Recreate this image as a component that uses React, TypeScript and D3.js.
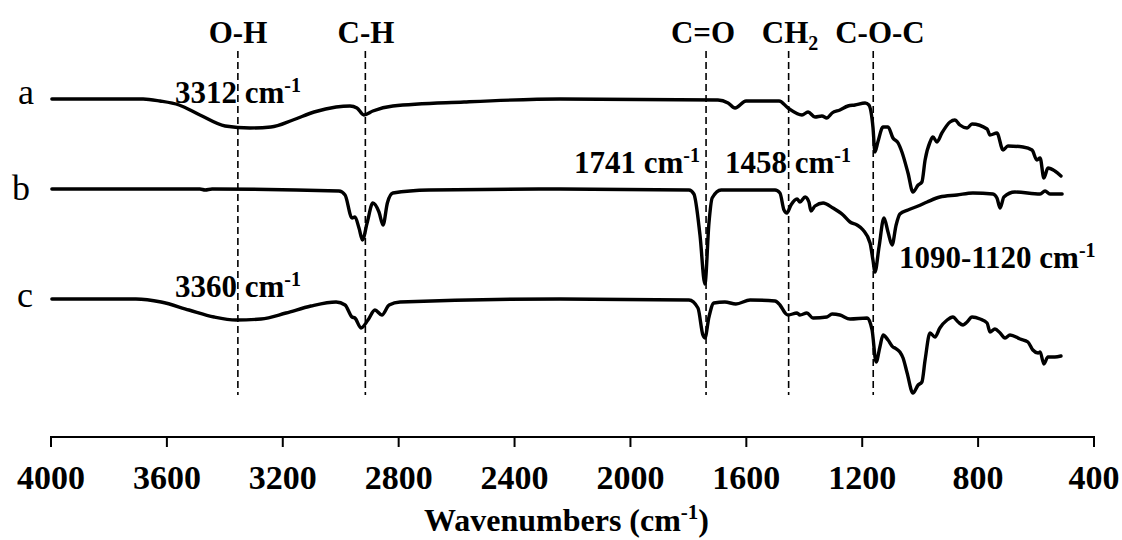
import React from 'react';
import * as d3 from 'd3';

// ---- Data ----
const wavenumberTicks = [4000, 3600, 3200, 2800, 2400, 2000, 1600, 1200, 800, 400];

// Trace a (offset transmittance, arbitrary units)
const traceAWavenumbers = [3997, 3682, 3624, 3558, 3486, 3399, 3313, 3241, 3165, 3092, 3016, 2968, 2944, 2920, 2889, 2820, 2574, 2243, 1698, 1663, 1639, 1601, 1487, 1456, 1408, 1387, 1363, 1339, 1322, 1304, 1277, 1249, 1225, 1190, 1177, 1163, 1156, 1146, 1128, 1111, 1094, 1076, 1063, 1042, 1025, 1007, 994, 983, 966, 956, 942, 925, 897, 880, 863, 838, 821, 769, 759, 735, 714, 697, 645, 614, 597, 586, 573, 559, 535, 514];
const traceAValues = [301, 301, 299, 295, 285, 274, 272, 273, 280, 288, 293, 294, 292, 285, 289, 294, 298, 301, 300, 297, 292, 299, 299, 292, 285, 288, 283, 284, 282, 287, 290, 294, 295, 297, 295, 273, 248, 258, 273, 273, 262, 257, 248, 227, 208, 215, 218, 240, 258, 263, 258, 267, 278, 280, 275, 272, 276, 271, 265, 267, 250, 254, 253, 250, 240, 242, 222, 232, 229, 224];

// Trace b
const traceBWavenumbers = [3997, 3486, 3468, 3444, 3006, 2985, 2961, 2951, 2937, 2925, 2909, 2889, 2868, 2854, 2839, 2820, 2695, 2243, 1798, 1781, 1760, 1743, 1729, 1718, 1687, 1501, 1484, 1470, 1460, 1446, 1425, 1415, 1397, 1384, 1377, 1363, 1335, 1301, 1266, 1242, 1218, 1197, 1173, 1163, 1156, 1142, 1125, 1111, 1097, 1083, 1070, 1042, 1007, 976, 932, 873, 818, 749, 735, 724, 711, 673, 586, 569, 552, 510];
const traceBValues = [211, 211, 210, 211, 209, 205, 182, 183, 172, 160, 177, 197, 188, 175, 197, 207, 210, 211, 210, 206, 165, 116, 177, 202, 210, 210, 207, 190, 187, 195, 201, 198, 203, 198, 189, 194, 197, 192, 185, 178, 175, 170, 157, 140, 128, 153, 182, 168, 155, 175, 186, 190, 194, 198, 203, 205, 207, 206, 202, 192, 203, 208, 206, 209, 206, 206];

// Trace c
const traceCWavenumbers = [3997, 3707, 3620, 3524, 3437, 3361, 3275, 3189, 3103, 3016, 2985, 2961, 2951, 2930, 2906, 2882, 2858, 2833, 2795, 2243, 1798, 1767, 1750, 1743, 1729, 1712, 1674, 1636, 1587, 1501, 1484, 1463, 1456, 1425, 1415, 1391, 1370, 1322, 1304, 1277, 1242, 1183, 1166, 1152, 1139, 1128, 1111, 1094, 1087, 1070, 1059, 1045, 1025, 1007, 994, 983, 966, 949, 932, 907, 887, 869, 852, 838, 821, 793, 769, 759, 742, 724, 707, 690, 655, 628, 611, 593, 586, 573, 559, 535, 514];
const traceCValues = [101, 101, 98, 90, 83, 80, 81, 87, 94, 98, 95, 83, 82, 72, 80, 90, 85, 95, 98, 101, 100, 92, 65, 62, 83, 97, 98, 96, 100, 99, 95, 86, 85, 87, 85, 87, 82, 83, 86, 85, 81, 82, 70, 38, 53, 65, 60, 53, 52, 48, 42, 27, 7, 15, 18, 40, 67, 63, 72, 80, 83, 78, 75, 78, 83, 81, 77, 68, 71, 67, 62, 65, 61, 58, 50, 47, 48, 36, 43, 43, 44];

const traceLabels = ['a', 'b', 'c'];

// Band assignments (dashed reference lines)
const bandNames = ['O-H', 'C-H', 'C=O', 'CH', 'C-O-C'];
const bandSubscripts = ['', '', '', '2', ''];
const bandWavenumbers = [3355, 2915, 1739, 1454, 1162];

// Peak annotations
const annotationTexts = ['3312 cm', '3360 cm', '1741 cm', '1458 cm', '1090-1120 cm'];

const FONT = "'Liberation Serif', 'Times New Roman', Times, serif";

export default function App() {
  const W = 1122;
  const H = 540;
  const x = d3.scaleLinear().domain([4000, 400]).range([51, 1094]);
  const y = d3.scaleLinear().domain([0, 350]).range([400, 50]);
  const line = d3
    .line<[number, number]>()
    .x((d) => x(d[0]))
    .y((d) => y(d[1]))
    .curve(d3.curveMonotoneX);

  const traces = [
    d3.zip(traceAWavenumbers, traceAValues) as [number, number][],
    d3.zip(traceBWavenumbers, traceBValues) as [number, number][],
    d3.zip(traceCWavenumbers, traceCValues) as [number, number][],
  ];
  const labelPos = [
    { x: 26, y: 104 },
    { x: 21, y: 200 },
    { x: 25, y: 307 },
  ];

  const axisY = 437;
  const headerX = [238, 366, 703, 790, 880];
  const annPos = [
    { x: 175, y: 103 },
    { x: 175, y: 297 },
    { x: 574, y: 173 },
    { x: 725, y: 173 },
    { x: 899, y: 268 },
  ];

  return (
    <svg
      width={W}
      height={H}
      viewBox={`0 0 ${W} ${H}`}
      style={{ position: 'absolute', left: 0, top: 0, background: '#fff' }}
      fontFamily={FONT}
    >
      <rect x={0} y={0} width={W} height={H} fill="#fff" />
      {bandWavenumbers.map((wn, i) => (
        <line
          key={'d' + i}
          x1={x(wn)}
          x2={x(wn)}
          y1={51}
          y2={395}
          stroke="#000"
          strokeWidth={1.6}
          strokeDasharray="7,4"
        />
      ))}
      {bandNames.map((n, i) => (
        <text key={'h' + i} x={headerX[i]} y={43} fontSize={31} fontWeight="bold" textAnchor="middle">
          {n}
          {bandSubscripts[i] && (
            <tspan fontSize={20} dy={7}>
              {bandSubscripts[i]}
            </tspan>
          )}
        </text>
      ))}
      {traces.map((t, i) => (
        <path
          key={'t' + i}
          d={line(t) || ''}
          fill="none"
          stroke="#000"
          strokeWidth={3.4}
          strokeLinejoin="round"
          strokeLinecap="round"
        />
      ))}
      {traceLabels.map((l, i) => (
        <text key={'l' + i} x={labelPos[i].x} y={labelPos[i].y} fontSize={36} textAnchor="middle">
          {l}
        </text>
      ))}
      {annotationTexts.map((t, i) => (
        <text key={'a' + i} x={annPos[i].x} y={annPos[i].y} fontSize={31} fontWeight="bold">
          {t}
          <tspan fontSize={20} dy={-11}>
            -1
          </tspan>
        </text>
      ))}
      <line x1={x(4000)} x2={x(400)} y1={axisY} y2={axisY} stroke="#000" strokeWidth={2.2} />
      {wavenumberTicks.map((t) => (
        <g key={'k' + t}>
          <line x1={x(t)} x2={x(t)} y1={axisY - 1} y2={axisY + 10} stroke="#000" strokeWidth={2} />
          <text x={x(t)} y={489} fontSize={34} fontWeight="bold" textAnchor="middle">
            {t}
          </text>
        </g>
      ))}
      <text x={(x(4000) + x(400)) / 2 - 6} y={531} fontSize={32} fontWeight="bold" textAnchor="middle">
        Wavenumbers (cm
        <tspan fontSize={21} dy={-12}>
          -1
        </tspan>
        <tspan dy={12}>)</tspan>
      </text>
    </svg>
  );
}
